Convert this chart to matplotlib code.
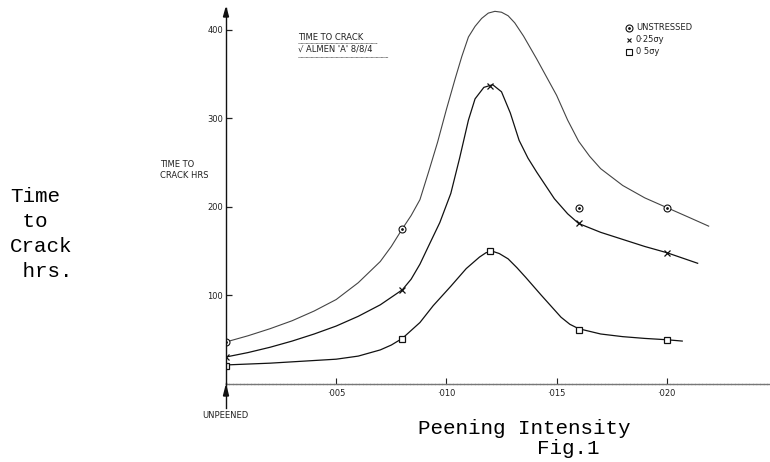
import matplotlib
matplotlib.use("Agg")
import matplotlib.pyplot as plt
from matplotlib.lines import Line2D

# measured points (peening intensity, hours)
intensity = [0, .008, .012, .016, .020]
unstressed_x = [0, .008, .016, .020]
unstressed_y = [47, 175, 199, 199]
quarter_y = [30, 106, 337, 181, 148]
half_y = [20, 50, 150, 61, 49]

# hand drawn curves
curve_unstressed_x = [0, .001, .002, .003, .004, .005, .006, .007, .0075, .008, .0084,
                      .0088, .0092, .0096, .0100, .0104, .0107, .0110, .0113, .0116,
                      .0119, .0122, .0125, .0128, .0131, .0135, .0141, .0150, .0155,
                      .0160, .0165, .0170, .0180, .0190, .0200, .0210, .0219]
curve_unstressed_y = [47, 54, 62, 71, 82, 95, 114, 138, 155, 175, 190,
                      208, 240, 273, 310, 345, 370, 392, 404, 413,
                      419, 421, 420, 416, 408, 393, 367, 326, 298,
                      274, 257, 243, 224, 210, 199, 188, 178]
curve_quarter_x = [0, .001, .002, .003, .004, .005, .006, .007, .008, .0084, .0088,
                   .0092, .0097, .0102, .0106, .0110, .0113, .0117, .0121, .0125,
                   .0129, .0133, .0137, .0141, .0149, .0155, .0160, .0170, .0180,
                   .0190, .0200, .0214]
curve_quarter_y = [30, 35, 41, 48, 56, 65, 76, 89, 106, 118, 135,
                   156, 182, 215, 255, 298, 322, 335, 338, 330,
                   306, 275, 255, 239, 209, 192, 181, 171, 163,
                   155, 148, 136]
curve_half_x = [0, .001, .002, .003, .004, .005, .006, .007, .0075, .008, .0088,
                .0094, .0102, .0109, .0115, .0118, .0121, .0124, .0128, .0132,
                .0136, .0143, .0152, .0156, .0160, .0170, .0180, .0190, .0200, .0207]
curve_half_y = [21, 22, 23, 24.5, 26, 27.5, 31, 38, 43.5, 51, 69,
                88, 110, 130, 143, 148, 149.5, 147, 141, 131,
                120, 100, 75, 67, 62, 56, 53, 51, 49.5, 48]

y_ticks = [100, 200, 300, 400]
x_ticks = [.005, .010, .015, .020]
x_tick_labels = ["·005", "·010", "·015", "·020"]
legend_labels = ["UNSTRESSED", "0·25σy", "0 5σy"]

W, H = 770, 462


def px(x, y):
    """pixel position -> figure fraction"""
    return x / W, 1 - y / H


fig = plt.figure(figsize=(7.7, 4.62), dpi=100)
x0, y0, ytop = 226, 383.5, 8
ax = fig.add_axes([x0 / W, (H - y0) / H, (W - x0) / W, (y0 - ytop) / H])
ax.set_xlim(0, (W - x0) / 22.04 / 1000)
ax.set_ylim(0, (y0 - ytop) / 0.884)

ink = "#111111"
ax.plot(curve_unstressed_x, curve_unstressed_y, color="#444444", lw=0.8)
ax.plot(curve_quarter_x, curve_quarter_y, color=ink, lw=0.9)
ax.plot(curve_half_x, curve_half_y, color=ink, lw=0.9)

ax.plot(unstressed_x, unstressed_y, ls="none", marker="o", ms=5, mfc="white", mec=ink, mew=0.8)
ax.plot(unstressed_x, unstressed_y, ls="none", marker=".", ms=2, color=ink)
ax.plot(intensity, quarter_y, ls="none", marker="x", ms=4, mew=0.9, color=ink)
ax.plot(intensity, half_y, ls="none", marker="s", ms=5, mfc="white", mec=ink, mew=0.9)

for side in ["top", "right"]:
    ax.spines[side].set_visible(False)
ax.spines["left"].set_color(ink)
ax.spines["left"].set_linewidth(1.0)
ax.spines["bottom"].set_color("#777777")
ax.spines["bottom"].set_linewidth(1.0)
ax.spines["bottom"].set_linestyle((0, (2, 0.6)))

ax.set_yticks(y_ticks)
ax.set_yticklabels([str(v) for v in y_ticks], fontsize=6, color="#222222")
ax.set_xticks(x_ticks)
ax.set_xticklabels(x_tick_labels, fontsize=6, color="#222222")
ax.tick_params(axis="y", direction="in", length=4, width=0.9, pad=2, colors="#222222")
ax.tick_params(axis="x", direction="in", length=4, width=0.8, pad=4, colors="#222222")

# arrows on the vertical axis
fig.add_artist(Line2D([x0 / W, x0 / W], [px(0, 383)[1], px(0, 408)[1]], color=ink, lw=1.0))
fig.patches.append(plt.Polygon([px(x0, 8), px(x0 - 2.5, 17), px(x0 + 2.5, 17)],
                               closed=True, color=ink, transform=fig.transFigure))
fig.patches.append(plt.Polygon([px(x0, 386), px(x0 - 2.5, 396), px(x0 + 2.5, 396)],
                               closed=True, color=ink, transform=fig.transFigure))

small = dict(fontsize=6, color="#222222", family="DejaVu Sans")
fig.text(*px(225, 416), "UNPEENED", ha="center", va="center", **small)
fig.text(*px(160, 170), "TIME TO\nCRACK HRS", ha="left", va="center", linespacing=1.3, **small)

# title block
fig.text(*px(298, 37), "TIME TO CRACK", ha="left", va="center", **small)
fig.text(*px(298, 49), "√ ALMEN 'A' 8/8/4", ha="left", va="center", **small)
fig.add_artist(Line2D([px(298, 0)[0], px(377, 0)[0]], [px(0, 42.5)[1]] * 2, color="#555555", lw=0.6, ls=(0, (1, 0.5))))
fig.add_artist(Line2D([px(298, 0)[0], px(388, 0)[0]], [px(0, 56.5)[1]] * 2, color="#555555", lw=0.6, ls=(0, (1, 0.5))))

# legend drawn by hand like the original
legend_markers = ["o", "x", "s"]
for i, (lab, mk) in enumerate(zip(legend_labels, legend_markers)):
    yy = 28 + i * 12
    fig.add_artist(Line2D([px(629, 0)[0]], [px(0, yy)[1]], ls="none", marker=mk,
                          ms=5 if mk != "x" else 3.5, mfc="white", mec=ink, color=ink, mew=0.8))
    fig.text(*px(636, yy), lab, ha="left", va="center", **small)
fig.add_artist(Line2D([px(629, 0)[0]], [px(0, 28)[1]], ls="none", marker=".", ms=2, color=ink))

big = dict(fontsize=15, color="black", family="Liberation Mono")
fig.text(*px(10, 234), "Time\n to\nCrack\n hrs.", ha="left", va="center", linespacing=1.39, **big)
fig.text(*px(418, 428), "Peening Intensity", ha="left", va="center", **big)
fig.text(*px(537, 449), "Fig.1", ha="left", va="center", **big)

fig.savefig("out.png", dpi=100)
